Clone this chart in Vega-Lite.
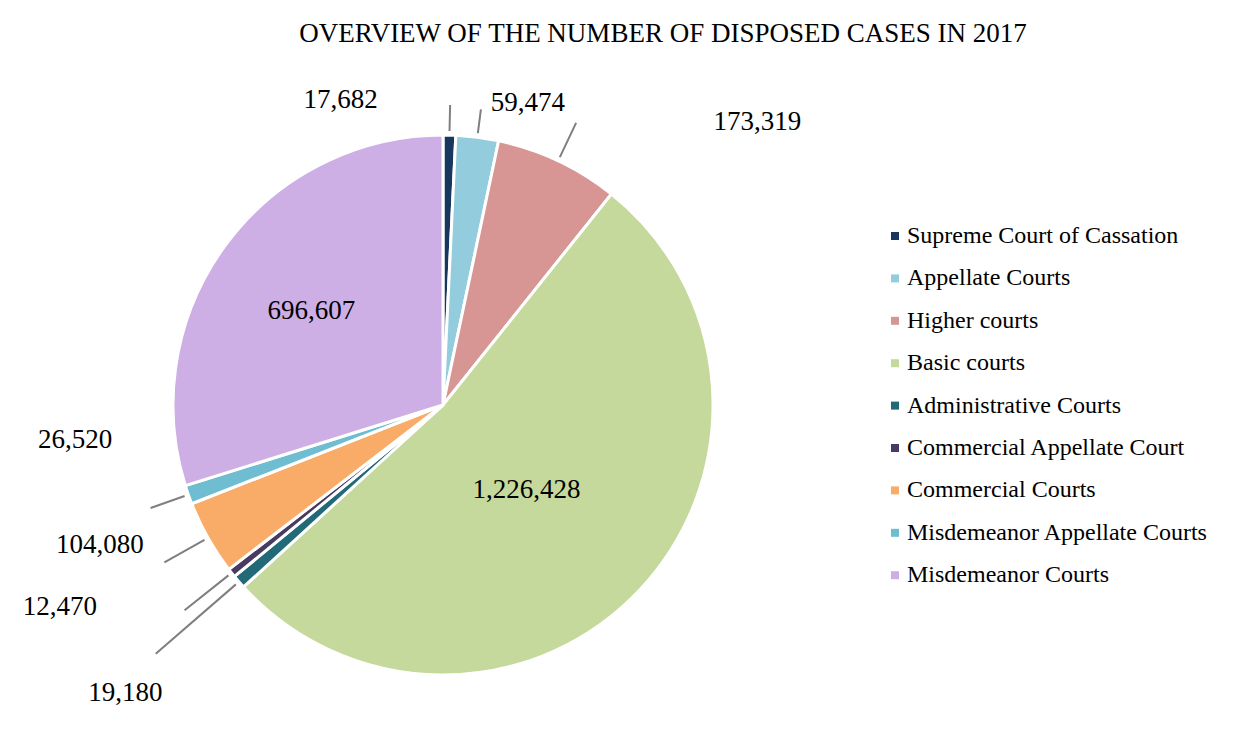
{
  "$schema": "https://vega.github.io/schema/vega-lite/v6.json",
  "autosize": {"type": "none"},
  "width": 886,
  "height": 678,
  "padding": {"left": 0, "top": 66, "right": 349, "bottom": 0},
  "background": "white",
  "config": {
    "view": {"stroke": null},
    "font": "Liberation Serif"
  },
  "title": {
    "text": "OVERVIEW OF THE NUMBER OF DISPOSED CASES IN 2017",
    "font": "Liberation Serif",
    "fontSize": 27,
    "fontWeight": "normal",
    "color": "#000000",
    "anchor": "middle",
    "dx": 220,
    "offset": -3,
    "baseline": "alphabetic"
  },
  "data": {
    "values": [
      {"court": "Supreme Court of Cassation", "value": 17682, "order": 0},
      {"court": "Appellate Courts", "value": 59474, "order": 1},
      {"court": "Higher courts", "value": 173319, "order": 2},
      {"court": "Basic courts", "value": 1226428, "order": 3},
      {"court": "Administrative Courts", "value": 19180, "order": 4},
      {"court": "Commercial Appellate Court", "value": 12470, "order": 5},
      {"court": "Commercial Courts", "value": 104080, "order": 6},
      {"court": "Misdemeanor Appellate Courts", "value": 26520, "order": 7},
      {"court": "Misdemeanor Courts", "value": 696607, "order": 8}
    ]
  },
  "encoding": {
    "theta": {"field": "value", "type": "quantitative", "stack": true},
    "order": {"field": "order", "type": "quantitative"}
  },
  "layer": [
    {
      "mark": {"type": "arc", "outerRadius": 270, "stroke": "white", "strokeWidth": 3},
      "encoding": {
        "color": {
          "field": "court",
          "type": "nominal",
          "sort": ["Supreme Court of Cassation", "Appellate Courts", "Higher courts", "Basic courts", "Administrative Courts", "Commercial Appellate Court", "Commercial Courts", "Misdemeanor Appellate Courts", "Misdemeanor Courts"],
          "scale": {
            "domain": ["Supreme Court of Cassation", "Appellate Courts", "Higher courts", "Basic courts", "Administrative Courts", "Commercial Appellate Court", "Commercial Courts", "Misdemeanor Appellate Courts", "Misdemeanor Courts"],
            "range": ["#17375E", "#93CDDD", "#D79694", "#C4D99B", "#226A78", "#493A62", "#F9AC68", "#6EBDD0", "#CDAFE6"]
          },
          "legend": {
            "title": null,
            "orient": "none",
            "legendX": 883,
            "legendY": 158,
            "symbolType": "square",
            "symbolSize": 64,
            "symbolStrokeWidth": 0,
            "labelFont": "Liberation Serif",
            "labelFontSize": 24,
            "labelColor": "#000000",
            "labelOffset": 0,
            "rowPadding": 18.4,
            "labelLimit": 400,
            "padding": 0
          }
        }
      }
    },
    {
      "mark": {
        "type": "arc",
        "innerRadius": 274,
        "outerRadius": {"expr": "[300,298,312,280,380,330,320,310,280][datum.order]"},
        "padAngle": 0.6,
        "fill": null,
        "stroke": "#7f7f7f",
        "strokeWidth": 2,
        "strokeOpacity": {"expr": "datum.order == 3 || datum.order == 8 ? 0 : 1"}
      }
    },
    {
      "mark": {
        "type": "text",
        "font": "Liberation Serif",
        "fontSize": 27,
        "color": "#000000",
        "align": "center",
        "baseline": "middle",
        "radius": {"expr": "[322,314,423,120,428,433,370,370,162][datum.order]"},
        "dx": {"expr": "[-110,45,134,-4,6,-44,-21,-19,-1][datum.order]"},
        "dy": {"expr": "[17,9,100,3,8,-67,-42,-88,2][datum.order]"}
      },
      "encoding": {
        "text": {"field": "value", "type": "quantitative", "format": ",d"}
      }
    }
  ]
}
